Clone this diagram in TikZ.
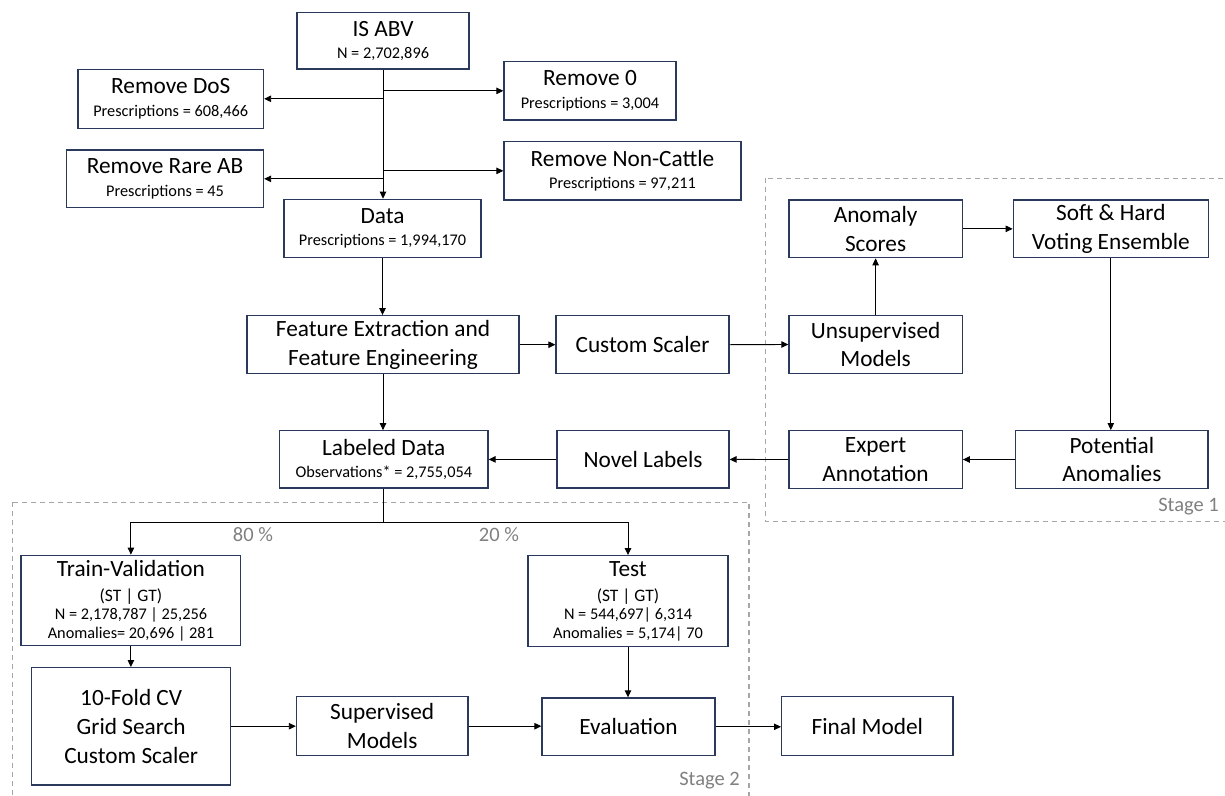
\documentclass[tikz,border=0pt]{standalone}
\usepackage{fontspec}
\setmainfont{Carlito}
\usetikzlibrary{arrows.meta}
\definecolor{boxc}{HTML}{2B3A5C}
\definecolor{dashc}{HTML}{A6A6A6}
\definecolor{labc}{HTML}{808080}
\newcommand{\mfont}{\fontsize{23.3}{28.7}\selectfont}
\newcommand{\sfont}{\fontsize{16.3}{18}\selectfont}
\newcommand{\tfont}{\fontsize{17.5}{18}\selectfont}
\begin{document}
\begin{tikzpicture}[x=1pt,y=-1pt,
  box/.style={draw=boxc, line width=1.3pt, rectangle, inner sep=0pt, align=center, font=\mfont, fill=white},
  conn/.style={draw=black, line width=0.9pt, -{Triangle[length=7pt,width=6.5pt]}},
  plain/.style={draw=black, line width=0.9pt},
  stagebox/.style={draw=dashc, line width=1.2pt, dash pattern=on 5pt off 4pt},
  lab/.style={text=labc, font=\fontsize{20.5}{22}\selectfont, inner sep=0pt}]
\useasboundingbox (0,0) rectangle (1225,795);

% stage frames
\draw[stagebox] (765.7,178.3) rectangle (1227,521.7);
\draw[stagebox] (12.3,502.3) rectangle (749,799);
\node[lab, anchor=base east] (st1) at (1219,511.7) {Stage 1};
\node[lab, anchor=base east] (st2) at (740,785.7) {Stage 2};

% nodes
\node[box, minimum width=172pt, minimum height=56.7pt] (isabv) at (383,40.7) {IS ABV\\[-6.4pt]{\sfont N = 2,702,896}};
\node[box, minimum width=185.5pt, minimum height=59pt] (removedos) at (170.75,98.8) {Remove DoS\\[-6.4pt]{\sfont Prescriptions = 608,466}};
\node[box, minimum width=172pt, minimum height=58.3pt] (remove0) at (590,90.85) {Remove 0\\[-6.4pt]{\sfont Prescriptions = 3,004}};
\node[box, minimum width=196.8pt, minimum height=57.7pt] (rarab) at (165.1,178.85) {Remove Rare AB\\[-6.4pt]{\sfont Prescriptions = 45}};
\node[box, minimum width=237pt, minimum height=58.3pt] (noncattle) at (622.5,170.85) {Remove Non-Cattle\\[-6.4pt]{\sfont Prescriptions = 97,211}};
\node[box, minimum width=197pt, minimum height=58.4pt] (data) at (382.5,228.5) {Data\\[-6.4pt]{\sfont Prescriptions = 1,994,170}};
\node[box, minimum width=272pt, minimum height=58pt] (feature) at (383,344.7) {Feature Extraction and\\Feature Engineering};
\node[box, minimum width=173pt, minimum height=58pt] (scaler) at (642.5,344.7) {Custom Scaler};
\node[box, minimum width=173.3pt, minimum height=57.6pt] (unsup) at (875.6,344.5) {Unsupervised\\Models};
\node[box, minimum width=173.3pt, minimum height=57.7pt] (anomaly) at (875.6,228.85) {Anomaly\\Scores};
\node[box, minimum width=195pt, minimum height=57.7pt] (soft) at (1110.8,228.85) {Soft \& Hard\\Voting Ensemble};
\node[box, minimum width=192.3pt, minimum height=57.6pt] (potential) at (1111.85,459.5) {Potential\\Anomalies};
\node[box, minimum width=173.3pt, minimum height=57.6pt] (expert) at (875.6,459.5) {Expert\\Annotation};
\node[box, minimum width=172pt, minimum height=57.3pt] (novel) at (643,459.4) {Novel Labels};
\node[box, minimum width=208.4pt, minimum height=57.3pt] (labeled) at (383.8,459.4) {Labeled Data\\[-6.4pt]{\sfont Observations* = 2,755,054}};
\node[box, minimum width=219.7pt, minimum height=90.4pt] (train) at (130.9,600.5) {Train-Validation\\[-3.7pt]{\tfont (ST \textbar{} GT)}\\[-10.4pt]{\sfont N = 2,178,787 \textbar{} 25,256}\\[-10.4pt]{\sfont Anomalies= 20,696 \textbar{} 281}};
\node[box, minimum width=200pt, minimum height=91pt] (test) at (628,601.2) {Test\\[-3.7pt]{\tfont (ST \textbar{} GT)}\\[-10.4pt]{\sfont N = 544,697\textbar{} 6,314}\\[-10.4pt]{\sfont Anomalies = 5,174\textbar{} 70}};
\node[box, minimum width=199pt, minimum height=117.3pt] (tenfold) at (131.2,726.3) {10-Fold CV\\Grid Search\\Custom Scaler};
\node[box, minimum width=171.5pt, minimum height=59pt] (supervised) at (382.2,726.2) {Supervised\\Models};
\node[box, minimum width=173pt, minimum height=57.7pt] (eval) at (628.5,726.8) {Evaluation};
\node[box, minimum width=171.3pt, minimum height=59pt] (final) at (867.3,726.2) {Final Model};

% percentages
\node[lab, anchor=base] (p80) at (253,541.7) {80 \%};
\node[lab, anchor=base] (p20) at (499,541.7) {20 \%};

% connectors
\draw[conn] (isabv.south) -- (isabv.south |- data.north);
\draw[conn] (isabv.south |- remove0.west) -- (remove0.west);
\draw[conn] (isabv.south |- removedos.east) -- (removedos.east);
\draw[conn] (isabv.south |- noncattle.west) -- (noncattle.west);
\draw[conn] (isabv.south |- rarab.east) -- (rarab.east);
\draw[conn] (data.south) -- (data.south |- feature.north);
\draw[conn] (feature.east) -- (scaler.west);
\draw[conn] (scaler.east) -- (unsup.west);
\draw[conn] (unsup.north) -- (anomaly.south);
\draw[conn] (anomaly.east) -- (anomaly.east -| soft.west);
\draw[conn] (soft.south) -- (soft.south |- potential.north);
\draw[conn] (potential.west) -- (expert.east);
\draw[conn] (expert.west) -- (novel.east);
\draw[conn] (novel.west) -- (labeled.east);
\draw[conn] (feature.south) -- (feature.south |- labeled.north);
\coordinate (split) at (383.8,522);
\draw[plain] (labeled.south) -- (split);
\draw[conn] (split) -| (train.north);
\draw[conn] (split) -| (test.north);
\draw[conn] (train.south) -- (train.south |- tenfold.north);
\draw[conn] (tenfold.east |- supervised.west) -- (supervised.west);
\draw[conn] (supervised.east) -- (supervised.east -| eval.west);
\draw[conn] (test.south) -- (test.south |- eval.north);
\draw[conn] (eval.east) -- (eval.east -| final.west);
\end{tikzpicture}
\end{document}
